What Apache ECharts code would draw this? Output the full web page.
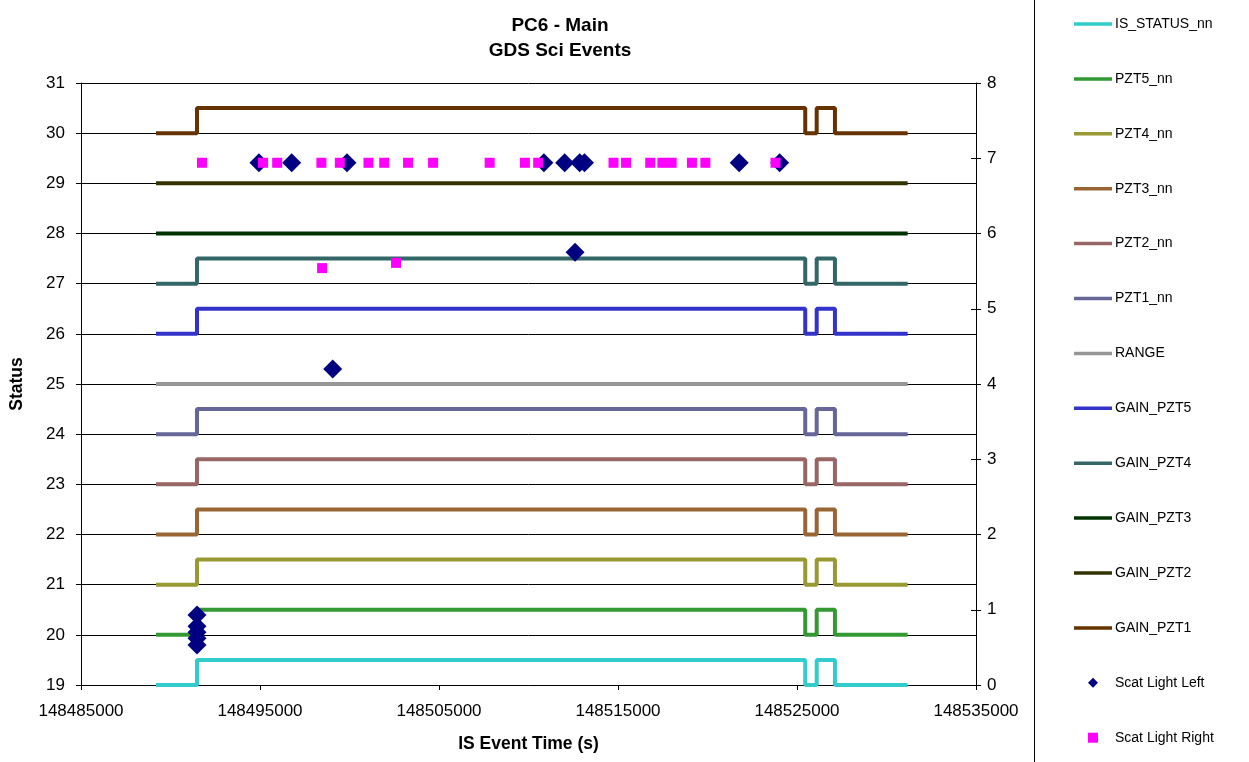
<!DOCTYPE html>
<html>
<head>
<meta charset="utf-8">
<script src="https://cdn.jsdelivr.net/npm/echarts@6/dist/echarts.min.js"></script>
<style>html,body{margin:0;padding:0;background:#fff;}#c{width:1249px;height:762px;}</style>
</head>
<body>
<div id="c"></div>
<script>
// ---- data ----
const stepTimes = [148489190, 148491480, 148525460, 148526100, 148527120, 148531180];
const isStatusNn = [19, 19.5, 19, 19.5, 19, 19];
const pzt5Nn = [20, 20.5, 20, 20.5, 20, 20];
const pzt4Nn = [21, 21.5, 21, 21.5, 21, 21];
const pzt3Nn = [22, 22.5, 22, 22.5, 22, 22];
const pzt2Nn = [23, 23.5, 23, 23.5, 23, 23];
const pzt1Nn = [24, 24.5, 24, 24.5, 24, 24];
const rangeVals = [25, 25, 25, 25, 25, 25];
const gainPzt5 = [26, 26.5, 26, 26.5, 26, 26];
const gainPzt4 = [27, 27.5, 27, 27.5, 27, 27];
const gainPzt3 = [28, 28, 28, 28, 28, 28];
const gainPzt2 = [29, 29, 29, 29, 29, 29];
const gainPzt1 = [30, 30.5, 30, 30.5, 30, 30];

const scatLeftTime = [148491480, 148491480, 148491480, 148491480, 148491480,
  148494940, 148496770, 148499860, 148499060, 148510860, 148512020, 148512600,
  148512860, 148513130, 148521770, 148524030];
const scatLeftVal = [0.93, 0.78, 0.70, 0.62, 0.53,
  6.94, 6.94, 6.94, 4.20, 6.94, 6.94, 5.75,
  6.94, 6.94, 6.94, 6.94];

const scatRightTime = [148491760, 148495170, 148495960, 148498430, 148499460,
  148501060, 148501940, 148503270, 148504670, 148507830, 148509800, 148510540,
  148514750, 148515450, 148516800, 148517480, 148518000, 148519130, 148519880,
  148523800, 148498470, 148502600];
const scatRightVal = [6.94, 6.94, 6.94, 6.94, 6.94,
  6.94, 6.94, 6.94, 6.94, 6.94, 6.94, 6.94,
  6.94, 6.94, 6.94, 6.94, 6.94, 6.94, 6.94,
  6.94, 5.54, 5.61];

const xTicks = ['148485000','148495000','148505000','148515000','148525000','148535000'];

// ---- chart ----
const FONT = '"Liberation Sans", Arial, sans-serif';
const zip = (a, b) => a.map((v, i) => [v, b[i]]);

const lineDefs = [
  ['IS_STATUS_nn', isStatusNn, '#33CCCC'],
  ['PZT5_nn', pzt5Nn, '#339933'],
  ['PZT4_nn', pzt4Nn, '#999933'],
  ['PZT3_nn', pzt3Nn, '#996633'],
  ['PZT2_nn', pzt2Nn, '#996666'],
  ['PZT1_nn', pzt1Nn, '#666699'],
  ['RANGE', rangeVals, '#969696'],
  ['GAIN_PZT5', gainPzt5, '#3333CC'],
  ['GAIN_PZT4', gainPzt4, '#336666'],
  ['GAIN_PZT3', gainPzt3, '#003300'],
  ['GAIN_PZT2', gainPzt2, '#333300'],
  ['GAIN_PZT1', gainPzt1, '#663300']
];

const series = lineDefs.map(([name, vals, color]) => ({
  name, type: 'line', step: 'end', xAxisIndex: 0, yAxisIndex: 0,
  data: zip(stepTimes, vals), symbol: 'none', showSymbol: false,
  lineStyle: { color, width: 4 }, itemStyle: { color },
  animation: false, z: 3
}));
series.push({
  name: 'Scat Light Left', type: 'scatter', yAxisIndex: 1,
  data: zip(scatLeftTime, scatLeftVal), symbol: 'diamond', symbolSize: [19, 19],
  itemStyle: { color: '#000080', opacity: 1 }, animation: false, z: 5
});
series.push({
  name: 'Scat Light Right', type: 'scatter', yAxisIndex: 1,
  data: zip(scatRightTime, scatRightVal), symbol: 'rect', symbolSize: [10, 10],
  itemStyle: { color: '#FF00FF', opacity: 1 }, animation: false, z: 6
});

const LINE_ICON = 'path://M0,0 L38,0 L38,3.5 L0,3.5 Z';
const DIAMOND_ICON = 'path://M5,0 L10,5 L5,10 L0,5 Z';
const SQUARE_ICON = 'path://M0,0 L10,0 L10,10 L0,10 Z';

const chart = echarts.init(document.getElementById('c'), null, { renderer: 'canvas' });
chart.setOption({
  backgroundColor: '#fff',
  animation: false,
  textStyle: { fontFamily: FONT },
  title: {
    text: 'PC6 - Main\nGDS Sci Events',
    left: 555, top: 8, textAlign: 'center',
    textStyle: { fontFamily: FONT, fontSize: 19, fontWeight: 'bold', color: '#000', lineHeight: 25 }
  },
  legend: {
    orient: 'vertical', left: 1074, top: 17, padding: 0,
    itemWidth: 38, itemHeight: 10, itemGap: 40.9,
    symbolKeepAspect: true,
    textStyle: { fontFamily: FONT, fontSize: 14, lineHeight: 10, color: '#000', padding: [0, 0, 0, -2] },
    data: lineDefs.map(d => ({ name: d[0], icon: LINE_ICON, itemStyle: { color: d[2], borderWidth: 0 } })).concat([
      { name: 'Scat Light Left', icon: DIAMOND_ICON, itemStyle: { color: '#000080', borderWidth: 0 } },
      { name: 'Scat Light Right', icon: SQUARE_ICON, itemStyle: { color: '#FF00FF', borderWidth: 0 } }
    ])
  },
  grid: { left: 80, right: 273, top: 83, bottom: 77, containLabel: false },
  xAxis: {
    type: 'value', min: 148485000, max: 148535000, interval: 10000,
    name: 'IS Event Time (s)', nameLocation: 'middle', nameGap: 50,
    nameTextStyle: { fontFamily: FONT, fontSize: 17.5, fontWeight: 'bold', color: '#000' },
    axisLine: { show: true, onZero: false, lineStyle: { color: '#000', width: 1 } },
    axisTick: { show: true, length: 5, lineStyle: { color: '#000' } },
    axisLabel: { fontFamily: FONT, fontSize: 17, color: '#000', margin: 18,
      formatter: v => xTicks[Math.round((v - 148485000) / 10000)] },
    splitLine: { show: false }
  },
  yAxis: [
    {
      type: 'value', min: 19, max: 31, interval: 1, position: 'left',
      name: 'Status', nameLocation: 'middle', nameGap: 55, nameRotate: 90,
      nameTextStyle: { fontFamily: FONT, fontSize: 17.5, fontWeight: 'bold', color: '#000' },
      axisLine: { show: true, lineStyle: { color: '#000', width: 1 } },
      axisTick: { show: true, length: 5, lineStyle: { color: '#000' } },
      axisLabel: { fontFamily: FONT, fontSize: 17, color: '#000', margin: 16 },
      splitLine: { show: true, lineStyle: { color: '#000', width: 1 } }
    },
    {
      type: 'value', min: 0, max: 8, interval: 1, position: 'right',
      axisLine: { show: true, lineStyle: { color: '#000', width: 1 } },
      axisTick: { show: true, length: 5, lineStyle: { color: '#000' } },
      axisLabel: { fontFamily: FONT, fontSize: 17, color: '#000', margin: 11 },
      splitLine: { show: false }
    },
    {
      type: 'value', min: 0, max: 8, interval: 1, position: 'right',
      axisLine: { show: false },
      axisTick: { show: true, inside: true, length: 5, lineStyle: { color: '#000' } },
      axisLabel: { show: false },
      splitLine: { show: false }
    }
  ],
  graphic: [
    { type: 'line', shape: { x1: 1034.5, y1: 0, x2: 1034.5, y2: 762 }, style: { stroke: '#000', lineWidth: 1 } }
  ],
  series
});
</script>
</body>
</html>
